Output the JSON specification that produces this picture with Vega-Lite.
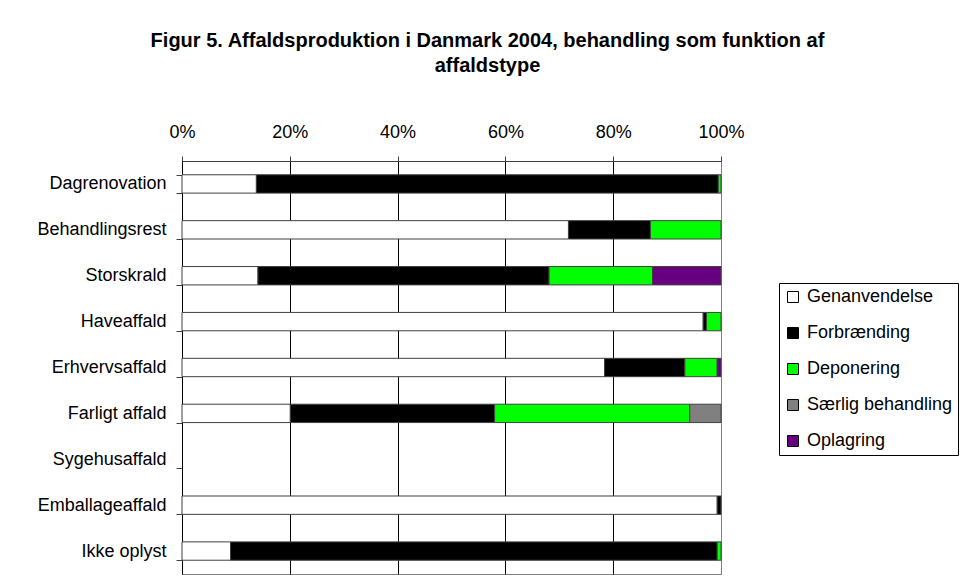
{
  "$schema": "https://vega.github.io/schema/vega-lite/v6.json",
  "width": 539,
  "height": 413,
  "autosize": "none",
  "padding": {"left": 182, "top": 161, "right": 245, "bottom": 12},
  "background": "white",
  "title": {
    "text": ["Figur 5. Affaldsproduktion i Danmark 2004, behandling som funktion af", "affaldstype"],
    "anchor": "middle",
    "frame": "group",
    "dx": 36,
    "offset": 47,
    "font": "Liberation Sans",
    "fontSize": 20,
    "fontWeight": "bold",
    "lineHeight": 25,
    "color": "black"
  },
  "data": {
    "values": [
      {"type": "Dagrenovation", "behandling": "Genanvendelse", "o": 1, "pct": 13.8},
      {"type": "Dagrenovation", "behandling": "Forbrænding", "o": 2, "pct": 85.7},
      {"type": "Dagrenovation", "behandling": "Deponering", "o": 3, "pct": 0.5},
      {"type": "Behandlingsrest", "behandling": "Genanvendelse", "o": 1, "pct": 71.7},
      {"type": "Behandlingsrest", "behandling": "Forbrænding", "o": 2, "pct": 15.2},
      {"type": "Behandlingsrest", "behandling": "Deponering", "o": 3, "pct": 13.1},
      {"type": "Storskrald", "behandling": "Genanvendelse", "o": 1, "pct": 14.1},
      {"type": "Storskrald", "behandling": "Forbrænding", "o": 2, "pct": 54.0},
      {"type": "Storskrald", "behandling": "Deponering", "o": 3, "pct": 19.2},
      {"type": "Storskrald", "behandling": "Oplagring", "o": 5, "pct": 12.7},
      {"type": "Haveaffald", "behandling": "Genanvendelse", "o": 1, "pct": 96.7},
      {"type": "Haveaffald", "behandling": "Forbrænding", "o": 2, "pct": 0.6},
      {"type": "Haveaffald", "behandling": "Deponering", "o": 3, "pct": 2.7},
      {"type": "Erhvervsaffald", "behandling": "Genanvendelse", "o": 1, "pct": 78.4},
      {"type": "Erhvervsaffald", "behandling": "Forbrænding", "o": 2, "pct": 14.9},
      {"type": "Erhvervsaffald", "behandling": "Deponering", "o": 3, "pct": 6.0},
      {"type": "Erhvervsaffald", "behandling": "Oplagring", "o": 5, "pct": 0.7},
      {"type": "Farligt affald", "behandling": "Genanvendelse", "o": 1, "pct": 20.1},
      {"type": "Farligt affald", "behandling": "Forbrænding", "o": 2, "pct": 37.9},
      {"type": "Farligt affald", "behandling": "Deponering", "o": 3, "pct": 36.2},
      {"type": "Farligt affald", "behandling": "Særlig behandling", "o": 4, "pct": 5.8},
      {"type": "Emballageaffald", "behandling": "Genanvendelse", "o": 1, "pct": 99.3},
      {"type": "Emballageaffald", "behandling": "Forbrænding", "o": 2, "pct": 0.7},
      {"type": "Ikke oplyst", "behandling": "Genanvendelse", "o": 1, "pct": 9.0},
      {"type": "Ikke oplyst", "behandling": "Forbrænding", "o": 2, "pct": 90.3},
      {"type": "Ikke oplyst", "behandling": "Deponering", "o": 3, "pct": 0.7}
    ]
  },
  "mark": {"type": "bar", "stroke": "#404040", "strokeWidth": 1},
  "encoding": {
    "y": {
      "field": "type",
      "type": "nominal",
      "scale": {
        "domain": ["Dagrenovation", "Behandlingsrest", "Storskrald", "Haveaffald", "Erhvervsaffald", "Farligt affald", "Sygehusaffald", "Emballageaffald", "Ikke oplyst"],
        "paddingInner": 0.6,
        "paddingOuter": 0.3
      },
      "axis": {
        "title": null,
        "grid": false,
        "domainColor": "black",
        "tickColor": "#404040",
        "tickSize": 6,
        "tickBand": "extent",
        "labelFont": "Liberation Sans",
        "labelFontSize": 18,
        "labelColor": "black",
        "labelPadding": 10
      }
    },
    "x": {
      "field": "pct",
      "type": "quantitative",
      "stack": "normalize",
      "scale": {"domain": [0, 1]},
      "axis": {
        "orient": "top",
        "title": null,
        "values": [0, 0.2, 0.4, 0.6, 0.8, 1],
        "format": ".0%",
        "grid": true,
        "gridColor": {"condition": {"test": "datum.value === 1", "value": "#808080"}, "value": "black"},
        "gridOpacity": 1,
        "domainColor": "#404040",
        "tickColor": "#404040",
        "tickSize": 5,
        "labelFlush": false,
        "labelFont": "Liberation Sans",
        "labelFontSize": 18,
        "labelColor": "black",
        "labelPadding": 15
      }
    },
    "color": {
      "field": "behandling",
      "type": "nominal",
      "scale": {
        "domain": ["Genanvendelse", "Forbrænding", "Deponering", "Særlig behandling", "Oplagring"],
        "range": ["#ffffff", "#000000", "#00ff00", "#808080", "#660080"]
      },
      "legend": {
        "title": null,
        "orient": "none",
        "legendX": 597,
        "legendY": 122,
        "strokeColor": "black",
        "fillColor": "white",
        "padding": 5,
        "symbolType": "square",
        "symbolSize": 121,
        "symbolStrokeColor": "black",
        "symbolStrokeWidth": 1,
        "symbolOpacity": 1,
        "labelFont": "Liberation Sans",
        "labelFontSize": 18,
        "labelColor": "black",
        "labelOffset": 5,
        "rowPadding": 18,
        "cornerRadius": 0
      }
    },
    "order": {"field": "o", "type": "quantitative"}
  },
  "config": {"view": {"stroke": "#808080", "strokeWidth": 1}}
}
